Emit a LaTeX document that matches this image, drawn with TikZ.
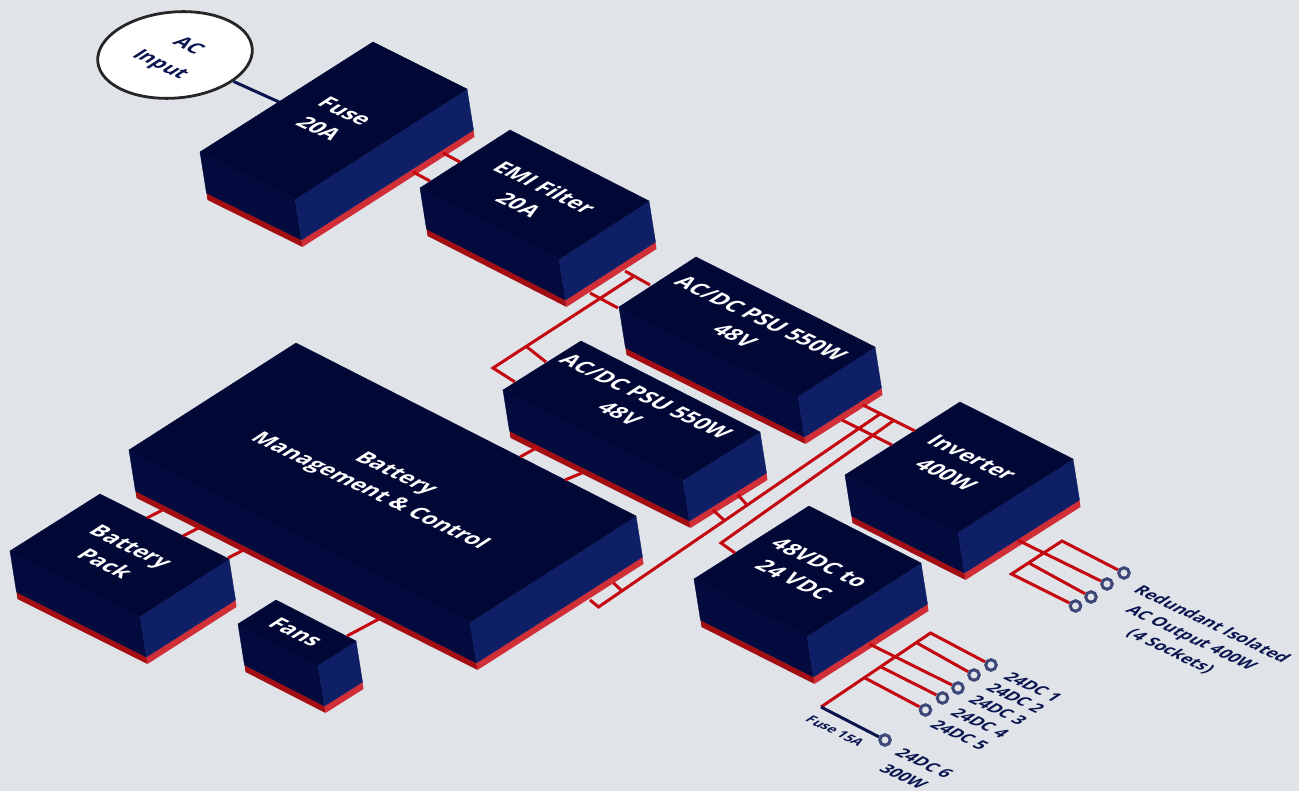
\documentclass[tikz,border=0pt]{standalone}
\usepackage{fontspec}
\setmainfont{Open Sans}
\usetikzlibrary{calc,shapes.geometric}
\definecolor{pagebg}{HTML}{E0E4E9}
\definecolor{boxtop}{HTML}{020835}
\definecolor{boxleft}{HTML}{030B3E}
\definecolor{boxright}{HTML}{0F1F66}
\definecolor{baseleft}{HTML}{A30E13}
\definecolor{baseright}{HTML}{D12F37}
\definecolor{wirered}{HTML}{C4080F}
\definecolor{wirenavy}{HTML}{0A1550}
\definecolor{ringblue}{HTML}{3C4677}
\tikzset{
    isotext/.style={cm={0.90,-0.43,0.84,0.55,(0,0)},inner sep=0pt,align=center},
    boxlabel/.style={isotext,text=white,font=\fontsize{22}{31}\selectfont\bfseries},
    smalllabel/.style={isotext,text=wirenavy,font=\fontsize{17}{24.5}\selectfont\bfseries},
    wire/.style={draw=wirered,line width=3pt,line join=miter},
    fusewire/.style={draw=wirenavy,line width=3pt},
    socket/.style={circle,draw=ringblue,fill=pagebg,line width=3pt,minimum size=10.5pt,inner sep=0pt},
}
% left, back, right and front corner of the top face
\newcommand{\isobox}[4]{
    \fill[baseleft] ([shift={(6.5,41)}]#1) -- ([shift={(7.5,48)}]#1) -- ([shift={(7.5,48)}]#4) -- ([shift={(6.5,41)}]#4) -- cycle;
    \fill[baseright] ([shift={(6.5,41)}]#4) -- ([shift={(7.5,48)}]#4) -- ([shift={(7.5,48)}]#3) -- ([shift={(6.5,41)}]#3) -- cycle;
    \filldraw[boxleft,line width=0.4pt] (#1) -- (#4) -- ([shift={(6.5,41)}]#4) -- ([shift={(6.5,41)}]#1) -- cycle;
    \filldraw[boxright,line width=0.4pt] (#4) -- (#3) -- ([shift={(6.5,41)}]#3) -- ([shift={(6.5,41)}]#4) -- cycle;
    \filldraw[boxtop,line width=0.4pt] (#1) -- (#2) -- (#3) -- (#4) -- cycle;
}
\begin{document}
\begin{tikzpicture}[x=1pt,y=-1pt]
    \useasboundingbox (0,0) rectangle (1299,791);
    \fill[pagebg] (0,0) rectangle (1299,791);

    % AC input
    \node[ellipse,draw=black!85,fill=white,line width=2.8pt,minimum width=155pt,minimum height=86pt,rotate=5,inner sep=0pt] (acinput) at (175,55) {};
    \coordinate (fuseinlet) at (279,102);
    \draw[fusewire] (acinput) -- (fuseinlet);
    \node[smalllabel,font=\fontsize{20}{33}\selectfont\bfseries] (aclabel) at (173.5,56) {AC\\Input};

    % boxes
    \isobox{200,152}{373,42}{467,89}{295,199}
    \isobox{420,188}{510,130}{649,201}{559,259}
    \isobox{619,307}{696,257}{875,347}{798,396}
    \isobox{503,390}{581,341}{760,432}{683,480}
    \isobox{129,450}{296,343}{636,516}{470,622}
    \isobox{10,551}{100,494}{229,559}{140,616}
    \isobox{238,624}{276,600}{356,641}{318,665}
    \isobox{694,579}{809,506}{921,563}{807,636}
    \isobox{845,475}{960,402}{1073,459}{958,532}

    \node[boxlabel] (fuse) at (332,120) {Fuse\\20A};
    \node[boxlabel] (emifilter) at (532,196) {EMI Filter\\20A};
    \node[boxlabel] (psuupper) at (748,327) {AC/DC PSU 550W\\48V};
    \node[boxlabel] (psulower) at (633,405) {AC/DC PSU 550W\\48V};
    \node[boxlabel] (bms) at (382,483) {Battery\\Management \& Control};
    \node[boxlabel] (pack) at (118,555) {Battery\\Pack};
    \node[boxlabel] (fans) at (296,632) {Fans};
    \node[boxlabel] (converter) at (807,571) {48VDC to\\24 VDC};
    \node[boxlabel] (inverter) at (959,466) {Inverter\\400W};

    % fuse to filter
    \coordinate (fuseA) at (443,153);
    \coordinate (emiA) at (460,162);
    \coordinate (fuseB) at (413,172);
    \coordinate (emiB) at (430,181);
    \draw[wire] (fuseA) -- (emiA);
    \draw[wire] (fuseB) -- (emiB);

    % filter to both PSUs
    \coordinate (emiC) at (625,271);
    \coordinate (psuA) at (650,285);
    \coordinate (emiD) at (590,293);
    \coordinate (psuB) at (618,308);
    \coordinate (acbusStart) at (633,277);
    \coordinate (acbusCorner) at (493,368);
    \coordinate (psuC) at (515,382);
    \coordinate (acbusTap) at (527,347);
    \coordinate (psuD) at (546,362);
    \draw[wire] (emiC) -- (psuA);
    \draw[wire] (emiD) -- (psuB);
    \draw[wire] (acbusStart) -- (acbusCorner) -- (psuC);
    \draw[wire] (acbusTap) -- (psuD);

    % PSUs to battery management
    \coordinate (lowerA) at (538,447);
    \coordinate (bmsA) at (520,457);
    \coordinate (lowerB) at (582,473);
    \coordinate (bmsB) at (565,480);
    \draw[wire] (lowerA) -- (bmsA);
    \draw[wire] (lowerB) -- (bmsB);

    % 48V buses
    \coordinate (upperA) at (863,405);
    \coordinate (invA) at (915,431);
    \coordinate (upperB) at (842,420);
    \coordinate (invB) at (892,445);
    \coordinate (busoneStart) at (880,414);
    \coordinate (busoneCorner) at (598.5,607);
    \coordinate (bmsC) at (590,600);
    \coordinate (bustwoStart) at (893,421);
    \coordinate (bustwoCorner) at (721,543);
    \coordinate (convA) at (735,553);
    \coordinate (busoneTap) at (621,590);
    \coordinate (bmsD) at (613.5,583);
    \coordinate (lowerC) at (738,495);
    \coordinate (busoneTapA) at (748,506);
    \coordinate (lowerD) at (713,510);
    \coordinate (busoneTapB) at (725,521);
    \draw[wire] (upperA) -- (invA);
    \draw[wire] (upperB) -- (invB);
    \draw[wire] (busoneStart) -- (busoneCorner) -- (bmsC);
    \draw[wire] (bustwoStart) -- (bustwoCorner) -- (convA);
    \draw[wire] (busoneTap) -- (bmsD);
    \draw[wire] (lowerC) -- (busoneTapA);
    \draw[wire] (lowerD) -- (busoneTapB);

    % battery pack and fans
    \coordinate (bmsE) at (162.5,510);
    \coordinate (packA) at (147,518);
    \coordinate (bmsF) at (198.5,528);
    \coordinate (packB) at (183,536);
    \coordinate (bmsG) at (243.5,550);
    \coordinate (packC) at (228,558);
    \coordinate (bmsH) at (379,619);
    \coordinate (fansA) at (347,636);
    \draw[wire] (bmsE) -- (packA);
    \draw[wire] (bmsF) -- (packB);
    \draw[wire] (bmsG) -- (packC);
    \draw[wire] (bmsH) -- (fansA);

    % inverter outputs
    \coordinate (invStem) at (1017.5,540);
    \coordinate (acbranchA) at (1062,541);
    \coordinate (acbranchC) at (1029,563);
    \coordinate (acbranchD) at (1011.5,574);
    \node[socket] (acoutA) at (1124,573) {};
    \node[socket] (acoutB) at (1107,584) {};
    \node[socket] (acoutC) at (1091,597) {};
    \node[socket] (acoutD) at (1075.5,606) {};
    \draw[wire] (invStem) -- (acoutB);
    \draw[wire] (acoutA) -- (acbranchA) -- (acbranchD) -- (acoutD);
    \draw[wire] (acbranchC) -- (acoutC);
    \node[smalllabel] (redundant) at (1191,638) {Redundant Isolated\\AC Output 400W\\(4 Sockets)};

    % converter outputs
    \coordinate (convStem) at (869.5,644);
    \coordinate (dcbranchA) at (930.5,633);
    \coordinate (dcbranchB) at (917,643);
    \coordinate (dcbranchD) at (881,667);
    \coordinate (dcbranchE) at (865,678);
    \coordinate (dcbranchF) at (821,707);
    \node[socket] (dcoutA) at (991,665) {};
    \node[socket] (dcoutB) at (974,675) {};
    \node[socket] (dcoutC) at (958,688) {};
    \node[socket] (dcoutD) at (942.5,698) {};
    \node[socket] (dcoutE) at (925.5,710) {};
    \node[socket] (dcoutF) at (885,740) {};
    \draw[wire] (convStem) -- (dcoutC);
    \draw[wire] (dcoutA) -- (dcbranchA) -- (dcbranchF);
    \draw[wire] (dcbranchB) -- (dcoutB);
    \draw[wire] (dcbranchD) -- (dcoutD);
    \draw[wire] (dcbranchE) -- (dcoutE);
    \draw[fusewire] (dcbranchF) -- (dcoutF);

    \node[smalllabel] (dclabelA) at (1033,687) {24DC 1};
    \node[smalllabel] (dclabelB) at (1015.5,698) {24DC 2};
    \node[smalllabel] (dclabelC) at (998,710) {24DC 3};
    \node[smalllabel] (dclabelD) at (980,723) {24DC 4};
    \node[smalllabel] (dclabelE) at (959.5,735) {24DC 5};
    \node[smalllabel] (dclabelF) at (914,770) {24DC 6\\300W};
    \node[smalllabel,font=\fontsize{13.5}{16}\selectfont\bfseries] (fusenote) at (835,731) {Fuse 15A};
\end{tikzpicture}
\end{document}
